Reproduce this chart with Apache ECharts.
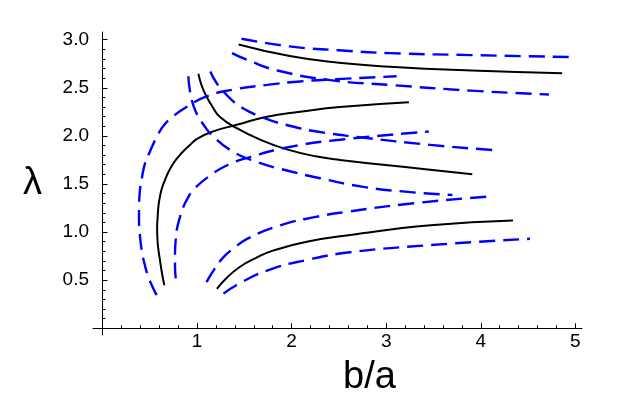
<!DOCTYPE html>
<html>
<head>
<meta charset="utf-8">
<script src="https://cdn.jsdelivr.net/npm/echarts@6/dist/echarts.min.js"></script>
<style>
  html, body { margin: 0; padding: 0; background: #fff; }
  #chart { width: 637px; height: 405px; }
</style>
</head>
<body>
<div id="chart"></div>
<script>
// curves, [b/a, lambda]
var loopSolid = [[0.654,0.448],[0.628,0.58],[0.608,0.708],[0.59,0.83],[0.58,0.95],[0.578,1.05],[0.584,1.16],[0.592,1.27],[0.608,1.37],[0.63,1.46],[0.661,1.54],[0.7,1.63],[0.75,1.715],[0.8,1.78],[0.855,1.84],[0.92,1.9],[1.0,1.97],[1.18,2.05],[1.42,2.115],[1.74,2.2],[2.09,2.25],[2.51,2.3],[3.24,2.35]];
var loopOuter = [[0.573,0.344],[0.53,0.43],[0.485,0.534],[0.445,0.67],[0.415,0.81],[0.395,0.98],[0.386,1.16],[0.388,1.3],[0.397,1.44],[0.42,1.58],[0.45,1.715],[0.49,1.81],[0.53,1.9],[0.585,2.01],[0.65,2.11],[0.745,2.2],[0.855,2.28],[1.1,2.41],[1.38,2.48],[1.74,2.53],[2.09,2.566],[2.48,2.59],[3.11,2.62]];
var loopInner = [[0.775,0.518],[0.767,0.65],[0.767,0.778],[0.773,0.9],[0.785,1.02],[0.815,1.14],[0.855,1.26],[0.9,1.35],[0.961,1.44],[1.12,1.575],[1.33,1.7],[1.56,1.78],[1.98,1.885],[2.51,1.96],[3.45,2.045]];

var fallSolid = [[1.014,2.646],[1.05,2.52],[1.1,2.41],[1.165,2.3],[1.24,2.2],[1.42,2.08],[1.67,1.96],[1.95,1.86],[2.27,1.785],[2.51,1.75],[3.39,1.655],[3.91,1.6]];
var fallLower = [[0.908,2.62],[0.92,2.5],[0.944,2.375],[0.975,2.28],[1.014,2.2],[1.08,2.1],[1.155,2.01],[1.35,1.854],[1.63,1.73],[1.95,1.64],[2.3,1.56],[2.76,1.47],[3.2,1.42],[3.7,1.385]];
var fallUpper = [[1.14,2.67],[1.2,2.56],[1.28,2.46],[1.36,2.38],[1.455,2.305],[1.7,2.19],[2.0,2.1],[2.3,2.04],[2.69,1.99],[3.47,1.906],[4.17,1.85]];

var topSolid = [[1.44,2.95],[1.98,2.83],[2.5,2.76],[3.04,2.72],[3.9,2.68],[4.86,2.65]];
var topUpper = [[1.47,3.01],[1.98,2.93],[2.5,2.89],[3.04,2.86],[3.9,2.84],[4.94,2.82]];
var topLower = [[1.37,2.86],[1.53,2.79],[1.85,2.68],[2.41,2.58],[3.04,2.53],[3.9,2.47],[4.72,2.43]];

var lowSolid = [[1.21,0.41],[1.32,0.53],[1.455,0.64],[1.62,0.73],[1.81,0.81],[2.16,0.9],[2.62,0.97],[3.47,1.07],[4.34,1.12]];
var lowUpper = [[1.1,0.48],[1.18,0.61],[1.28,0.74],[1.4,0.84],[1.53,0.93],[1.88,1.07],[2.27,1.16],[2.58,1.21],[3.29,1.3],[4.1,1.37]];
var lowLower = [[1.28,0.36],[1.42,0.45],[1.74,0.6],[2.16,0.71],[2.62,0.79],[3.47,0.865],[4.52,0.93]];

// ticks
var xMajor = [1, 2, 3, 4, 5];
var xMinor = [0.2,0.4,0.6,0.8,1.2,1.4,1.6,1.8,2.2,2.4,2.6,2.8,3.2,3.4,3.6,3.8,4.2,4.4,4.6,4.8];
var yMajor = [0.5, 1, 1.5, 2, 2.5, 3];
var yMinor = [0.1,0.2,0.3,0.4,0.6,0.7,0.8,0.9,1.1,1.2,1.3,1.4,1.6,1.7,1.8,1.9,2.1,2.2,2.3,2.4,2.6,2.7,2.8,2.9];

var solidCurves = [loopSolid, fallSolid, topSolid, lowSolid];
var dashedCurves = [loopOuter, loopInner, fallLower, fallUpper, topUpper, topLower, lowUpper, lowLower];

var myChart = echarts.init(document.getElementById('chart'));

var series = [];
solidCurves.forEach(function (d) {
  series.push({
    type: 'line', data: d, showSymbol: false, symbol: 'none', smooth: 0.5,
    lineStyle: { color: '#000', width: 2 }
  });
});
dashedCurves.forEach(function (d) {
  series.push({
    type: 'line', data: d, showSymbol: false, symbol: 'none', smooth: 0.5,
    lineStyle: { color: '#0000ff', width: 2.4, type: [16, 8], cap: 'butt' }
  });
});

var axisLineStyle = { show: true, onZero: true, onZeroAxisIndex: 0, lineStyle: { color: '#000', width: 1 } };
var labelFont = { color: '#000', fontSize: 19, fontFamily: 'Liberation Sans' };

var option = {
  animation: false,
  grid: { left: 93, right: 55, top: 32, bottom: 70 },
  xAxis: [
    {
      type: 'value', min: -0.1, max: 5.07, position: 'bottom',
      axisLine: axisLineStyle,
      axisTick: { show: true, inside: true, length: 5, customValues: xMajor, lineStyle: { color: '#000' } },
      axisLabel: Object.assign({ customValues: xMajor, margin: -3 }, labelFont),
      splitLine: { show: false },
      name: 'b/a', nameLocation: 'middle', nameGap: 24,
      nameTextStyle: { color: '#000', fontSize: 38, fontFamily: 'Liberation Sans', padding: [0, 0, 0, 64] }
    },
    {
      type: 'value', min: -0.1, max: 5.07, position: 'bottom',
      axisLine: { show: false, onZero: true, onZeroAxisIndex: 0 },
      axisTick: { show: true, inside: true, length: 3, customValues: xMinor, lineStyle: { color: '#000' } },
      axisLabel: { show: false },
      splitLine: { show: false }
    }
  ],
  yAxis: [
    {
      type: 'value', min: -0.07, max: 3.08, position: 'left',
      axisLine: axisLineStyle,
      axisTick: { show: true, inside: true, length: 5, customValues: yMajor, lineStyle: { color: '#000' } },
      axisLabel: Object.assign({
        customValues: yMajor, margin: 4,
        formatter: function (v) { return v.toFixed(1); }
      }, labelFont),
      splitLine: { show: false },
      name: 'λ', nameLocation: 'middle', nameRotate: 0, nameGap: 51,
      nameTextStyle: { color: '#000', fontSize: 38, fontFamily: 'Liberation Sans', padding: [20, 0, 0, 0] }
    },
    {
      type: 'value', min: -0.07, max: 3.08, position: 'left',
      axisLine: { show: false, onZero: true, onZeroAxisIndex: 0 },
      axisTick: { show: true, inside: true, length: 3, customValues: yMinor, lineStyle: { color: '#000' } },
      axisLabel: { show: false },
      splitLine: { show: false }
    }
  ],
  series: series
};

myChart.setOption(option);
</script>
</body>
</html>
